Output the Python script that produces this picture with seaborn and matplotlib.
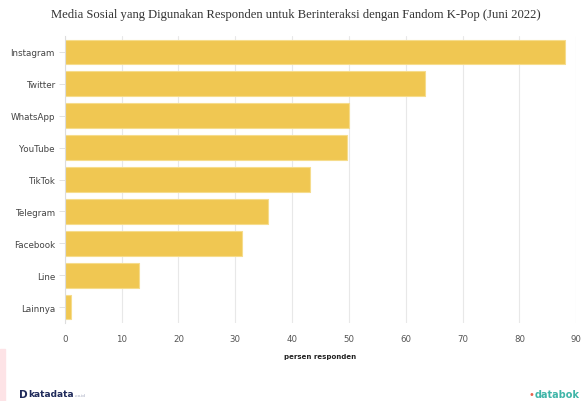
import matplotlib
matplotlib.use("Agg")
import matplotlib.pyplot as plt
import seaborn as sns
import pandas as pd

categories = ["Instagram", "Twitter", "WhatsApp", "YouTube", "TikTok",
              "Telegram", "Facebook", "Line", "Lainnya"]
values = [88.1, 63.3, 50.1, 49.6, 43.2, 35.7, 31.2, 13.1, 1.1]
xticks = [0, 10, 20, 30, 40, 50, 60, 70, 80, 90]

df = pd.DataFrame({"platform": categories, "persen": values})

sns.set_theme(style="white")
plt.rcParams["font.family"] = ["DejaVu Sans"]

fig = plt.figure(figsize=(5.81, 4.02), dpi=100)
ax = fig.add_axes([64.7/581, 1 - 324/402, (576.3 - 64.7)/581, (324 - 37)/402])

sns.barplot(data=df, y="platform", x="persen", orient="h", ax=ax,
            color="#F0C752", saturation=1, width=0.78,
            edgecolor="#F6DC8C", linewidth=0.8, order=categories)

ax.set_xlim(0, 90)
ax.set_xticks(xticks)
ax.set_xticklabels([str(t) for t in xticks], fontsize=6.2, color="#555555")
ax.tick_params(axis="x", length=0, pad=8)
ax.tick_params(axis="y", length=4, width=0.6, color="#dddddd", labelsize=6.3,
               labelcolor="#444444", pad=3, left=True)
ax.set_ylabel("")
ax.set_xlabel("persen responden", fontsize=5, fontweight="bold", color="#222222", labelpad=7)
ax.grid(axis="x", color="#e8e8e8", linewidth=0.8)
ax.set_axisbelow(True)
for s in ["top", "right", "bottom"]:
    ax.spines[s].set_visible(False)
ax.spines["left"].set_color("#dddddd")
ax.spines["left"].set_linewidth(0.8)

fig.text(295.5/581, 1 - 15/402, "Media Sosial yang Digunakan Responden untuk Berinteraksi dengan Fandom K-Pop (Juni 2022)",
         ha="center", va="center", fontsize=9.05, family="Liberation Serif", color="#333333")

# pink strip bottom-left
fig.patches.append(plt.Rectangle((0, 0), 5/581, 52/402, transform=fig.transFigure,
                                 color="#fde3e6", zorder=0))

fig.text(19/581, 1 - 395/402, "D", fontsize=7.5, fontweight="bold", color="#1f2a5a", va="center")
fig.text(28.5/581, 1 - 395/402, "katadata", fontsize=6.5, fontweight="bold", color="#1f2a5a", va="center")
fig.text(75/581, 1 - 396/402, ".co.id", fontsize=3, color="#9aa0b8", va="center")
fig.text(580/581, 1 - 395/402, "databok", fontsize=7.0, fontweight="bold", color="#3fb5a8", va="center", ha="right")
fig.text(531/581, 1 - 395/402, "\u2022", fontsize=7, color="#e8604c", va="center", ha="center")

fig.savefig("out.png", dpi=100)
